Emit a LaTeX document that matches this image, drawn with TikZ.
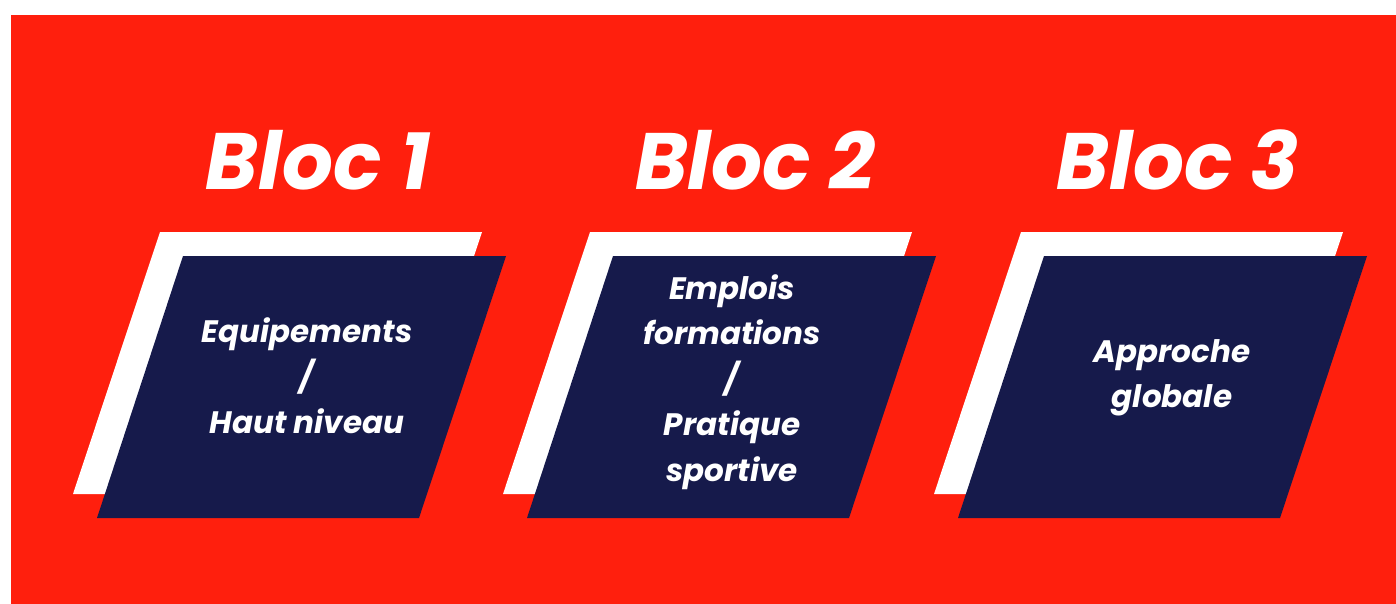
\documentclass[tikz,border=0pt]{standalone}
\usepackage{fontspec}
\setmainfont{Poppins}
\usepackage{xcolor}
\usetikzlibrary{positioning}
\definecolor{blocred}{HTML}{FF1F0D}
\definecolor{blocnavy}{HTML}{161A4B}

\begin{document}
\begin{tikzpicture}[x=1pt, y=-1pt,
    title/.style={text=white, font=\fontsize{80}{80}\selectfont\bfseries\itshape},
    blocline/.style={text=white, align=center, font=\fontsize{31}{45.5}\selectfont\bfseries\itshape}]
    \useasboundingbox (0,0) rectangle (1396,604);
    \fill[blocred] (11,15) rectangle (1396,604);

    % Parallelograms: white shadow then navy box
    \foreach \i/\x in {1/0,2/430,3/861} {
        \fill[white] (160+\x,232) -- (482+\x,232) -- (395+\x,494) -- (73+\x,494) -- cycle;
        \fill[blocnavy] (183+\x,256) -- (506+\x,256) -- (419+\x,518) -- (97+\x,518) -- cycle;
    }

    \node[title] (bloc1) at (318,160) {Bloc 1};
    \node[title] (bloc2) at (755,160) {Bloc 2};
    \node[title] (bloc3) at (1178,160) {Bloc 3};

    \node[blocline] (text1) at (307,376) {Equipements\\/\\Haut niveau};
    \node[blocline] (text2) at (732,382) {Emplois\\formations\\/\\Pratique\\sportive};
    \node[blocline] (text3) at (1172,378) {Approche\\globale};
\end{tikzpicture}
\end{document}
